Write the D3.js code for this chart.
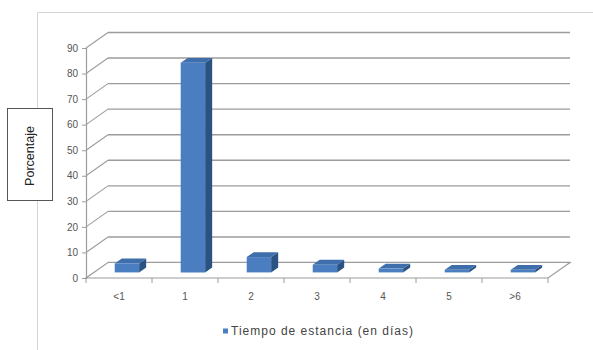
<!DOCTYPE html>
<html>
<head>
<meta charset="utf-8">
<script src="https://cdn.jsdelivr.net/npm/d3@7"></script>
<style>
  html, body { margin: 0; padding: 0; background: #fff; }
  svg { display: block; font-family: "Liberation Sans", Arial, sans-serif; }
</style>
</head>
<body>
<svg id="chart" width="593" height="350"></svg>
<script>
// Stay length (days) categories and the share of patients in each
const categories = ["<1", "1", "2", "3", "4", "5", ">6"];
const values = [3.5, 82, 6, 3, 1.5, 1, 1];
const yTicks = [0, 10, 20, 30, 40, 50, 60, 70, 80, 90];
const seriesName = "Tiempo de estancia (en días)";
const yTitle = "Porcentaje";

const svg = d3.select("#chart");

// 3D box geometry: depth offset of the back wall
const DX = 22, DY = -15.5;
const zFront = 0.36, zBack = 0.68;

const x = d3.scaleBand().domain(categories).range([86, 548]).paddingInner(0).paddingOuter(0);
const y = d3.scaleLinear().domain([0, 90]).range([278, 48]);
const barW = x.bandwidth() * 0.37;

// outer chart frame
svg.append("path")
  .attr("d", "M37.5,350 V12.5 H593")
  .attr("fill", "none").attr("stroke", "#d4d4d4").attr("stroke-width", 1);

const grid = "#9c9c9c";
const x0 = x.range()[0], x1 = x.range()[1];

// back wall gridlines
svg.append("g").selectAll("line").data(yTicks).join("line")
  .attr("x1", x0 + DX).attr("x2", x1 + DX)
  .attr("y1", d => y(d) + DY).attr("y2", d => y(d) + DY)
  .attr("stroke", grid).attr("stroke-width", 1.4);

// side wall gridlines
svg.append("g").selectAll("line").data(yTicks.filter(d => d > 0)).join("line")
  .attr("x1", x0).attr("x2", x0 + DX)
  .attr("y1", d => y(d)).attr("y2", d => y(d) + DY)
  .attr("stroke", grid).attr("stroke-width", 1.1);

// floor
svg.append("path")
  .attr("d", `M${x0},${y(0)} L${x1},${y(0)} L${x1 + DX},${y(0) + DY} L${x0 + DX},${y(0) + DY} Z`)
  .attr("fill", "#fff").attr("stroke", grid).attr("stroke-width", 1.2);

// columns
const bars = svg.append("g").selectAll("g").data(categories.map((c, i) => ({c, v: values[i]}))).join("g");
const bx = d => x(d.c) + (x.bandwidth() - barW) / 2;
const pt = (px, py, z) => [px + z * DX, py + z * DY];
const poly = ps => "M" + ps.map(p => p.join(",")).join("L") + "Z";

bars.append("path") // side face
  .attr("d", d => {
    const r = bx(d) + barW;
    return poly([pt(r, y(d.v), zFront), pt(r, y(d.v), zBack), pt(r, y(0), zBack), pt(r, y(0), zFront)]);
  })
  .attr("fill", "#2a5283");
bars.append("path") // top face
  .attr("d", d => {
    const l = bx(d), r = l + barW;
    return poly([pt(l, y(d.v), zFront), pt(r, y(d.v), zFront), pt(r, y(d.v), zBack), pt(l, y(d.v), zBack)]);
  })
  .attr("fill", "#3e6eab");
bars.append("path") // front face
  .attr("d", d => {
    const l = bx(d), r = l + barW;
    return poly([pt(l, y(d.v), zFront), pt(r, y(d.v), zFront), pt(r, y(0), zFront), pt(l, y(0), zFront)]);
  })
  .attr("fill", "#4a7ec0");

// front value axis
const yAxis = svg.append("g").attr("transform", `translate(${x0},0)`)
  .call(d3.axisLeft(y).tickValues(yTicks).tickSize(4).tickPadding(4));
yAxis.select(".domain").attr("stroke", grid).attr("stroke-width", 1.2);
yAxis.selectAll(".tick line").attr("stroke", grid);
yAxis.selectAll("text").attr("font-size", 10).attr("fill", "#555");

// category axis
const xAxis = svg.append("g").attr("transform", `translate(0,${y(0)})`)
  .call(d3.axisBottom(x).tickSize(0).tickPadding(15));
xAxis.select(".domain").remove();
xAxis.selectAll("text").attr("font-size", 10).attr("fill", "#555");
svg.append("g").selectAll("line").data(categories.concat([null])).join("line")
  .attr("x1", (d, i) => x0 + i * x.step()).attr("x2", (d, i) => x0 + i * x.step())
  .attr("y1", y(0)).attr("y2", y(0) + 5)
  .attr("stroke", grid);

// legend
const lg = svg.append("g").attr("transform", "translate(223,331)");
lg.append("rect").attr("x", 0).attr("y", -2.5).attr("width", 5).attr("height", 5).attr("fill", "#4a7ec0");
lg.append("text").attr("x", 8).attr("y", 4).attr("font-size", 12).attr("fill", "#444")
  .attr("textLength", 182).attr("lengthAdjust", "spacing").text(seriesName);

// value axis title in a boxed frame
svg.append("rect").attr("x", 7.5).attr("y", 108.5).attr("width", 45).attr("height", 92)
  .attr("fill", "#fff").attr("stroke", "#555").attr("stroke-width", 1);
svg.append("text").attr("transform", "translate(34,156) rotate(-90)")
  .attr("text-anchor", "middle").attr("font-size", 12.5).attr("fill", "#222").text(yTitle);
</script>
</body>
</html>
